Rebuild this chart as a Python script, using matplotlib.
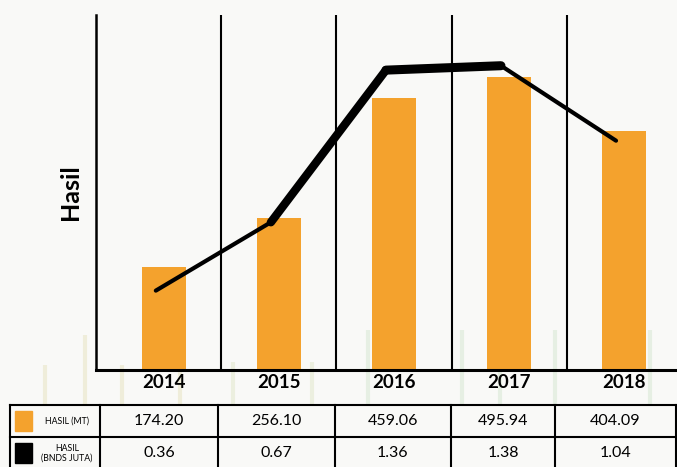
import matplotlib
matplotlib.use("Agg")
import matplotlib.pyplot as plt
from matplotlib.collections import LineCollection
from matplotlib.patches import Rectangle
import numpy as np

# ─── Data ────────────────────────────────────────────────────────────────────
years = ["2014", "2015", "2016", "2017", "2018"]
hasil_mt = [174.20, 256.10, 459.06, 495.94, 404.09]
hasil_juta = [0.36, 0.67, 1.36, 1.38, 1.04]
row_labels = ["HASIL (MT)", "HASIL\n(BNDS JUTA)"]

BG = "#f9f9f7"
ORANGE = "#f4a22d"
W, H = 677, 467

plt.rcParams["font.family"] = ["Lato", "DejaVu Sans"]

fig = plt.figure(figsize=(W / 100, H / 100), dpi=100, facecolor=BG)

# ─── Background decoration (faint stalks) ────────────────────────────────────
bg = fig.add_axes([0, 0, 1, 1], zorder=0)
bg.set_xlim(0, W)
bg.set_ylim(H, 0)
bg.axis("off")
stalks = [(45, 365, "#d9d49a"), (85, 335, "#d9d49a"), (122, 365, "#d9d49a"),
          (180, 362, "#d9d49a"), (233, 362, "#cfd8a8"), (312, 362, "#cfd8a8"),
          (368, 330, "#bcdab8"), (462, 330, "#bcdab8"), (500, 335, "#bcdab8"),
          (555, 330, "#bcdab8"), (650, 330, "#bcdab8")]
for sx, sy, sc in stalks:
    bg.plot([sx, sx], [sy, 405], color=sc, lw=3, alpha=0.3, solid_capstyle="butt")

# ─── Main chart ──────────────────────────────────────────────────────────────
x = np.arange(len(years))
ax = fig.add_axes([96 / W, 1 - 370 / H, 1 - 96 / W, 355 / H], zorder=1)
ax.patch.set_alpha(0)
ax.bar(x, hasil_mt, width=0.38, color=ORANGE, zorder=2)
ax.set_xlim(-0.59, 4.46)
ax.set_ylim(0, 600)
for sep in x[:-1] + 0.5:
    ax.axvline(sep, color="black", lw=1.5, zorder=1)

for s in ["top", "right"]:
    ax.spines[s].set_visible(False)
ax.spines["left"].set_linewidth(1.8)
ax.spines["bottom"].set_linewidth(2.2)
ax.set_yticks([])
ax.set_xticks(x)
ax.set_xticklabels(years, fontsize=13.5, fontweight="bold")
ax.tick_params(axis="x", length=0, pad=3)
ax.set_ylabel("Hasil", fontsize=18, fontweight="bold", labelpad=10)

# secondary axis for the black line
ax2 = ax.twinx()
ax2.set_ylim(0, 1.61)
ax2.set_yticks([])
for s in ax2.spines.values():
    s.set_visible(False)
lx = x - 0.07
pts = np.column_stack([lx, hasil_juta])
segs = np.stack([pts[:-1], pts[1:]], axis=1)
lc = LineCollection(segs, colors="black", linewidths=[3.0, 6, 6.5, 3.0],
                    capstyle="round", joinstyle="round", zorder=3)
ax2.add_collection(lc)

# ─── Table ───────────────────────────────────────────────────────────────────
tb = fig.add_axes([0, 0, 1, 1], zorder=2)
tb.set_xlim(0, W)
tb.set_ylim(H, 0)
tb.axis("off")
cols = [10, 100, 218, 335, 451, 555, 676]
rows = [405, 437, 469]
for cx in cols:
    tb.plot([cx, cx], [rows[0], rows[-1]], color="black", lw=1.5)
for ry in rows:
    tb.plot([cols[0], cols[-1]], [ry, ry], color="black", lw=1.5)

series = [hasil_mt, hasil_juta]
swatch = [ORANGE, "black"]
for r, (lab, vals, sc) in enumerate(zip(row_labels, series, swatch)):
    cy = (rows[r] + rows[r + 1]) / 2
    tb.add_patch(Rectangle((15, cy - 10), 17, 20, color=sc))
    tb.text(67, cy, lab, ha="center", va="center", fontsize=6.3,
            linespacing=1.1)
    for c, v in enumerate(vals):
        tb.text((cols[c + 1] + cols[c + 2]) / 2, cy, f"{v:.2f}",
                ha="center", va="center", fontsize=11.5)

fig.savefig("out.png", dpi=100, facecolor=BG)
